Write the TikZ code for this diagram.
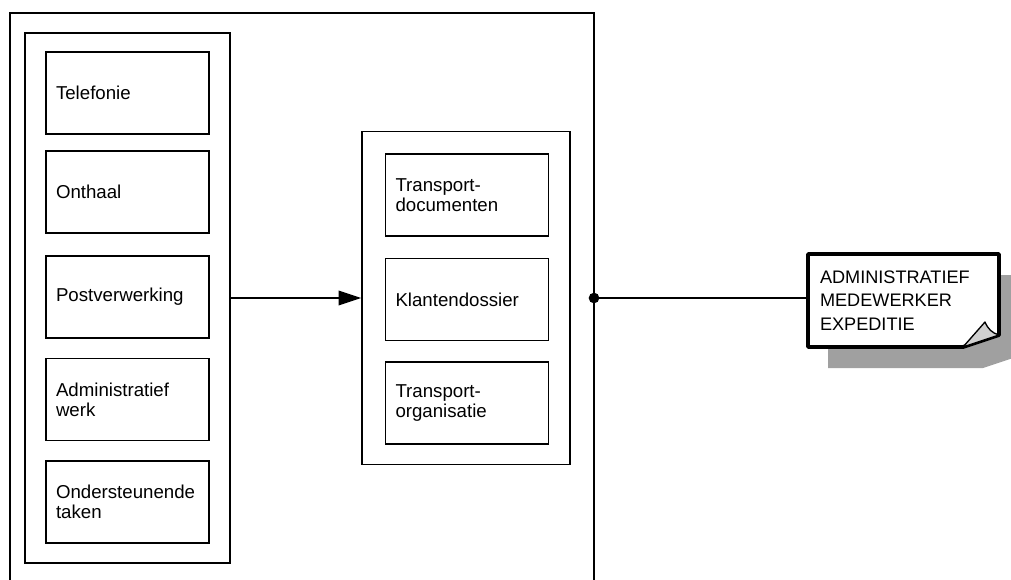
\documentclass[tikz,border=0pt]{standalone}
\usepackage{fontspec}
\setmainfont{Liberation Sans}
\usetikzlibrary{arrows.meta}

\definecolor{shadowgray}{RGB}{160,160,160}
\definecolor{flapgray}{RGB}{208,208,208}

\tikzset{every picture/.style={line width=1.1pt}}
\tikzset{
  taskbox/.style={draw, rectangle, text width=107.25pt, inner xsep=7.5pt, minimum height=61.5pt, align=left, font=\fontsize{14}{15.2}\selectfont},
  groupbox/.style={draw, rectangle, inner sep=0pt},
  doctext/.style={rectangle, text width=125.25pt, inner xsep=9pt, minimum height=69.75pt, align=left, font=\fontsize{13.6}{17.5}\selectfont},
}

\begin{document}
\begin{tikzpicture}[x=0.75pt,y=0.75pt,yscale=-1,xscale=1]
\clip (0,0) rectangle (1011,579);

%Outer frame (runs off the bottom)
\draw (10,13) rectangle (594,600);

%Groups
\node [groupbox, minimum width=153.75pt, minimum height=397.5pt] (leftpanel) at (127.5,298) {};
\node [groupbox, minimum width=156pt, minimum height=249.75pt] (midpanel) at (466,298) {};

%Left column
\node [taskbox] (telefonie) at (127.5,93) {Telefonie};
\node [taskbox] (onthaal) at (127.5,192) {Onthaal};
\node [taskbox] (post) at (127.5,297) {Postverwerking};
\node [taskbox] (admin) at (127.5,399.5) {Administratief\\werk};
\node [taskbox] (taken) at (127.5,502) {Ondersteunende\\taken};

%Middle column
\node [taskbox] (docs) at (467,195) {Transport-\\documenten};
\node [taskbox] (klant) at (467,299.5) {Klantendossier};
\node [taskbox] (org) at (467,403) {Transport-\\organisatie};

%Arrow between the groups
\draw [-{Triangle[length=17pt,width=11pt]}] (leftpanel) -- (midpanel);

%Document shape with shadow
\fill [shadowgray] (828,275) -- (1019,275) -- (1019,356) -- (983,368) -- (828,368) -- cycle;
\draw [line width=2.9pt, fill=white, line join=round] (808,254) -- (999,254) -- (999,335) -- (963,347) -- (808,347) -- cycle;
\filldraw [fill=flapgray, line width=1pt, line join=round] (963,347) -- (985,322) .. controls (988,329) and (992,333) .. (999,335) -- cycle;
\node [doctext] (expeditie) at (903.5,300.5) {ADMINISTRATIEF\\MEDEWERKER\\EXPEDITIE};

%Connector
\coordinate (junction) at (594,298);
\fill (junction) circle (4pt);
\draw (junction) -- (junction -| expeditie.west);

\end{tikzpicture}
\end{document}
